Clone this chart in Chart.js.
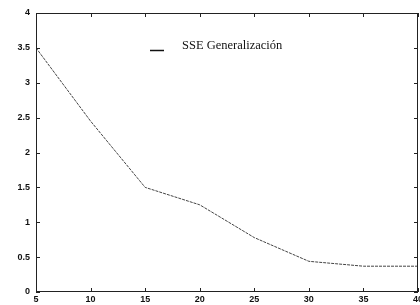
<!DOCTYPE html>
<html>
<head>
<meta charset="utf-8">
<script src="https://cdn.jsdelivr.net/npm/chart.js@4"></script>
<style>
  html, body { margin: 0; padding: 0; background: #fff; }
  #wrap { width: 420px; height: 305px; }
</style>
</head>
<body>
<div id="wrap"><canvas id="sseChart" width="420" height="305"></canvas></div>
<script>
  // values
  const epochs = [5, 10, 15, 20, 25, 30, 35, 40];
  const sseGen = [3.5, 2.45, 1.5, 1.25, 0.78, 0.44, 0.37, 0.37];
  const xTicks = [5, 10, 15, 20, 25, 30, 35, 40];
  const yTicks = [0, 0.5, 1, 1.5, 2, 2.5, 3, 3.5, 4];
  const seriesLabel = "SSE Generalización";

  // box around the plot with small inward ticks on all four sides
  const framePlugin = {
    id: "frame",
    afterDatasetsDraw(chart) {
      const { ctx, chartArea: a, scales } = chart;
      ctx.save();
      ctx.strokeStyle = "#222";
      ctx.lineWidth = 1;
      ctx.strokeRect(a.left + 0.5, a.top + 0.5, a.right - a.left - 1, a.bottom - a.top - 1);
      ctx.beginPath();
      xTicks.forEach(v => {
        const x = Math.round(scales.x.getPixelForValue(v)) + 0.5;
        ctx.moveTo(x, a.bottom); ctx.lineTo(x, a.bottom - 4);
        ctx.moveTo(x, a.top); ctx.lineTo(x, a.top + 4);
      });
      yTicks.forEach(v => {
        const y = Math.round(scales.y.getPixelForValue(v)) + 0.5;
        ctx.moveTo(a.left, y); ctx.lineTo(a.left + 4, y);
        ctx.moveTo(a.right, y); ctx.lineTo(a.right - 4, y);
      });
      ctx.stroke();
      ctx.restore();
    }
  };

  // legend drawn inside the plot like the original
  const legendPlugin = {
    id: "boxLegend",
    afterDraw(chart) {
      const { ctx } = chart;
      ctx.save();
      ctx.strokeStyle = "#111";
      ctx.lineWidth = 1.5;
      ctx.beginPath();
      ctx.moveTo(150, 50.5); ctx.lineTo(164, 50.5);
      ctx.stroke();
      ctx.fillStyle = "#111";
      ctx.font = "12.5px 'Liberation Serif'";
      ctx.textBaseline = "middle";
      ctx.fillText(chart.data.datasets[0].label, 182, 46);
      ctx.restore();
    }
  };

  const ctx = document.getElementById("sseChart").getContext("2d");
  new Chart(ctx, {
    type: "line",
    data: {
      datasets: [
        {
          label: seriesLabel,
          data: epochs.map((e, i) => ({ x: e, y: sseGen[i] })),
          borderColor: "#444",
          borderWidth: 1,
          borderDash: [3, 1],
          pointRadius: 0,
          tension: 0,
          fill: false,
        },
      ],
    },
    options: {
      responsive: false,
      animation: false,
      layout: { padding: { top: 13, right: 2, left: 0, bottom: 0 } },
      plugins: { legend: { display: false }, tooltip: { enabled: false } },
      scales: {
        x: {
          type: "linear",
          min: 5,
          max: 40,
          afterBuildTicks(scale) { scale.ticks = xTicks.map(v => ({ value: v })); },
          afterFit(scale) { scale.height = 13; scale.paddingLeft = 0; scale.paddingRight = 0; },
          grid: { display: false, drawTicks: false },
          border: { display: false },
          ticks: {
            color: "#111",
            padding: 2,
            maxRotation: 0,
            callback: v => String(v),
            font: { family: "Liberation Sans", size: 9, weight: "bold" },
          },
        },
        y: {
          min: 0,
          max: 4,
          afterBuildTicks(scale) { scale.ticks = yTicks.map(v => ({ value: v })); },
          afterFit(scale) { scale.width = 36; scale.paddingTop = 0; scale.paddingBottom = 0; },
          grid: { display: false, drawTicks: false },
          border: { display: false },
          ticks: {
            color: "#111",
            padding: 6,
            callback: v => String(v),
            font: { family: "Liberation Sans", size: 9, weight: "bold" },
          },
        },
      },
    },
    plugins: [framePlugin, legendPlugin],
  });
</script>
</body>
</html>
